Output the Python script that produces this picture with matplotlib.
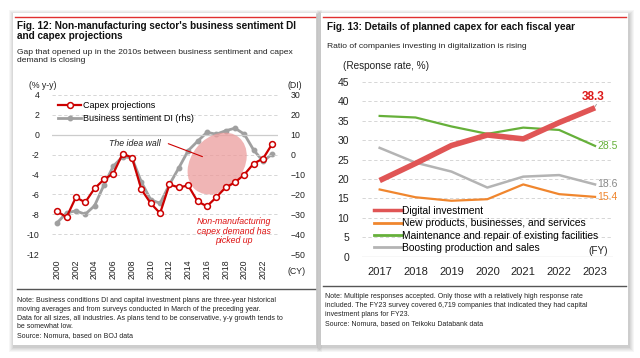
import matplotlib
matplotlib.use("Agg")
import matplotlib.pyplot as plt
import matplotlib.transforms as mtransforms
from matplotlib.patches import Ellipse, Rectangle
from matplotlib.lines import Line2D

plt.rcParams['font.family'] = ['Liberation Sans', 'DejaVu Sans']

# ---------------- data: Fig. 12 ----------------
years12 = list(range(2000, 2024))
capex = [-7.7, -8.3, -6.3, -6.8, -5.4, -4.5, -3.9, -1.9, -2.3, -5.5, -6.9, -7.9,
         -5.0, -5.3, -5.1, -6.7, -7.2, -6.3, -5.3, -4.8, -4.0, -2.9, -2.4, -0.9]
sentiment_di = [-34.3, -29.3, -28.3, -30.0, -25.7, -15.3, -5.8, -1.0, -1.7, -13.8, -22.7, -24.5,
                -15.0, -6.7, 2.0, 6.7, 11.2, 10.3, 12.0, 13.3, 10.3, 2.3, -3.3, 0.3]
xticks12 = list(range(2000, 2023, 2))

# ---------------- data: Fig. 13 ----------------
years13 = [2017, 2018, 2019, 2020, 2021, 2022, 2023]
digital = [19.6, 24.0, 28.6, 31.3, 30.3, 34.5, 38.3]
new_products = [17.3, 15.3, 14.4, 14.8, 18.6, 16.1, 15.4]
maintenance = [36.2, 35.8, 33.5, 31.6, 33.2, 32.6, 28.5]
boosting = [28.0, 24.2, 21.9, 17.8, 20.6, 21.0, 18.6]
series13_names = ["Digital investment", "New products, businesses, and services",
                  "Maintenance and repair of existing facilities", "Boosting production and sales"]

W, H = 640, 358
fig = plt.figure(figsize=(W / 100, H / 100), dpi=100)
fig.patch.set_facecolor('white')


def fx(x):
    return x / W


def fy(y):
    return 1 - y / H


def axrect(x0, y0, x1, y1):
    return [fx(x0), fy(y1), fx(x1) - fx(x0), fy(y0) - fy(y1)]


# cards with soft shadows
bg = fig.add_axes([0, 0, 1, 1], zorder=-10)
bg.set_xlim(0, W)
bg.set_ylim(H, 0)
bg.axis('off')
for (x0, y0, x1, y1) in [(13, 13, 316, 345), (321, 13, 628, 345)]:
    for i, a in enumerate([0.035, 0.035, 0.04, 0.045, 0.05]):
        d = 5 - i
        bg.add_patch(Rectangle((x0 - d + 1, y0 - d + 2), (x1 - x0) + 2 * d, (y1 - y0) + 2 * d,
                               facecolor='black', alpha=a, edgecolor='none'))
    bg.add_patch(Rectangle((x0, y0), x1 - x0, y1 - y0, facecolor='white', edgecolor='none'))
# red top lines
bg.plot([15, 315], [17, 17], color='#e03030', lw=1.0)
bg.plot([323, 626], [17, 17], color='#e03030', lw=1.0)
# note separators
bg.plot([17, 315], [289, 289], color='#555555', lw=1.0)
bg.plot([323, 626], [286, 286], color='#555555', lw=1.0)

# ---------------- titles ----------------
fig.text(fx(17), fy(31), "Fig. 12: Non-manufacturing sector's business sentiment DI\nand capex projections",
         fontsize=7.2, fontweight='bold', va='center', ha='left', linespacing=1.1, color='#111111')
fig.text(fx(17), fy(56.5), "Gap that opened up in the 2010s between business sentiment and capex\ndemand is closing",
         fontsize=6.1, va='center', ha='left', linespacing=1.25, color='#222222')
fig.text(fx(327), fy(27), "Fig. 13: Details of planned capex for each fiscal year",
         fontsize=7.2, fontweight='bold', va='center', ha='left', color='#111111')
fig.text(fx(327), fy(46), "Ratio of companies investing in digitalization is rising",
         fontsize=6.1, va='center', ha='left', color='#222222')

# notes
fig.text(fx(17), fy(297), "Note: Business conditions DI and capital investment plans are three-year historical\n"
         "moving averages and from surveys conducted in March of the preceding year.\n"
         "Data for all sizes, all industries. As plans tend to be conservative, y-y growth tends to\n"
         "be somewhat low.",
         fontsize=5.0, va='top', ha='left', linespacing=1.35, color='#222222')
fig.text(fx(17), fy(336), "Source: Nomura, based on BOJ data", fontsize=5.0, va='center', ha='left', color='#222222')
fig.text(fx(325), fy(293), "Note: Multiple responses accepted. Only those with a relatively high response rate\n"
         "included. The FY23 survey covered 6,719 companies that indicated they had capital\n"
         "investment plans for FY23.",
         fontsize=5.0, va='top', ha='left', linespacing=1.35, color='#222222')
fig.text(fx(325), fy(324), "Source: Nomura, based on Teikoku Databank data", fontsize=5.0, va='center',
         ha='left', color='#222222')

# ---------------- Fig. 12 chart ----------------
ax = fig.add_axes(axrect(52, 95, 278, 254))
ax.set_xlim(1999.45, 2023.6)
ax.set_ylim(-12, 4)
ax2 = ax.twinx()
ax2.set_ylim(-50, 30)
ax.set_zorder(2)
ax.patch.set_visible(False)

for v in range(-12, 5, 2):
    if v == 0:
        ax.axhline(v, color='#cccccc', lw=0.9, zorder=0)
    else:
        ax.axhline(v, color='#d0d0d0', lw=0.6, ls=(0, (4, 3)), zorder=0)

ax2.plot(years12, sentiment_di, color='#a0a0a0', lw=2.0, marker='o', ms=3.2,
         markerfacecolor='#a0a0a0', markeredgecolor='#a0a0a0', zorder=3)
ax.plot(years12, capex, color='#cc0000', lw=1.6, marker='o', ms=4.2,
        markerfacecolor='white', markeredgecolor='#cc0000', mew=1.1, zorder=4)

# ellipse in pixel units around a data point
cx, cy = 2017.1, -2.9
tr = fig.dpi_scale_trans + mtransforms.ScaledTranslation(cx, cy, ax.transData)
ell = Ellipse((0, 0), 0.68, 0.52, angle=50, transform=tr, facecolor='#ec9c9c', alpha=0.75,
              edgecolor='none', zorder=1)
ax.add_patch(ell)
ax.annotate("", xy=(2015.8, -2.3), xytext=(2011.6, -0.8),
            arrowprops=dict(arrowstyle='-', color='#cc0000', lw=0.8), zorder=5)
ax.text(2011.1, -0.85, "The idea wall", fontsize=6.3, style='italic', ha='right', va='center',
        color='#222222')
ax.text(2018.9, -9.7, "Non-manufacturing\ncapex demand has\npicked up", fontsize=6.3, style='italic',
        ha='center', va='center', color='#dd1111', linespacing=1.05)

ax.set_yticks(range(-12, 5, 2))
ax.set_yticklabels([str(v) for v in range(-12, 5, 2)])
ax2.set_yticks(range(-50, 31, 10))
ax.set_xticks(xticks12)
ax.set_xticklabels([str(v) for v in xticks12], rotation=90)
for a in (ax, ax2):
    for s in a.spines.values():
        s.set_visible(False)
    a.tick_params(length=0, labelsize=6.3, colors='#222222')
ax.tick_params(axis='y', pad=9)
ax2.tick_params(axis='y', pad=9)
ax.tick_params(axis='x', pad=4)

fig.text(fx(29), fy(85), "(% y-y)", fontsize=6.3, ha='left', va='center', color='#222222')
fig.text(fx(287), fy(85), "(DI)", fontsize=6.3, ha='left', va='center', color='#222222')
fig.text(fx(287), fy(272), "(CY)", fontsize=6.3, ha='left', va='center', color='#222222')

h1 = Line2D([], [], color='#cc0000', lw=1.6, marker='o', ms=4.2, markerfacecolor='white',
            markeredgecolor='#cc0000', mew=1.1)
h2 = Line2D([], [], color='#a0a0a0', lw=2.0, marker='o', ms=3.2, markerfacecolor='#a0a0a0',
            markeredgecolor='#a0a0a0')
ax.legend([h1, h2], ["Capex projections", "Business sentiment DI (rhs)"], loc='upper left',
          bbox_to_anchor=(fx(58), fy(101)), bbox_transform=fig.transFigure, frameon=False,
          fontsize=6.5, handlelength=2.6, handletextpad=0.2, labelspacing=0.45, borderpad=0,
          borderaxespad=0)

# ---------------- Fig. 13 chart ----------------
bx = fig.add_axes(axrect(361.7, 81.7, 613, 256.8))
bx.set_xlim(2016.5, 2023.5)
bx.set_ylim(0, 45)
for v in range(5, 46, 5):
    bx.axhline(v, color='#d0d0d0', lw=0.6, ls=(0, (4, 3)), zorder=0)
bx.axhline(0, color='#d8d8d8', lw=1.0, zorder=0)

c_dig, c_new, c_mnt, c_bst = '#e05555', '#f0862e', '#66b03a', '#b4b4b4'
bx.plot(years13, new_products, color=c_new, lw=1.6, zorder=2)
bx.plot(years13, boosting, color=c_bst, lw=1.8, zorder=2)
bx.plot(years13, maintenance, color=c_mnt, lw=1.6, zorder=3)
bx.plot(years13, digital, color=c_dig, lw=4.0, zorder=4, solid_capstyle='butt')

bx.annotate("", xy=(2023.0, digital[-1] + 0.3), xytext=(2023.08, digital[-1] + 1.5),
            arrowprops=dict(arrowstyle='-', color='#999999', lw=0.6))
bx.text(2022.95, 41.0, f"{digital[-1]:.1f}", fontsize=8.5, fontweight='bold', color='#dd1a1a',
        ha='center', va='center')
bx.text(2023.06, maintenance[-1], f"{maintenance[-1]:.1f}", fontsize=7.5, color=c_mnt,
        ha='left', va='center')
bx.text(2023.06, boosting[-1], f"{boosting[-1]:.1f}", fontsize=7.5, color='#888888',
        ha='left', va='center')
bx.text(2023.06, new_products[-1], f"{new_products[-1]:.1f}", fontsize=7.5, color=c_new,
        ha='left', va='center')

bx.set_xticks(years13)
bx.set_xticklabels([str(y) for y in years13])
bx.set_yticks(range(0, 46, 5))
for s in bx.spines.values():
    s.set_visible(False)
bx.tick_params(length=0, colors='#222222')
bx.tick_params(axis='x', labelsize=8, pad=7)
bx.tick_params(axis='y', labelsize=7.5, pad=9)

fig.text(fx(343), fy(66), "(Response rate, %)", fontsize=7.2, ha='left', va='center', color='#222222')
fig.text(fx(598), fy(251), "(FY)", fontsize=7.2, ha='center', va='center', color='#222222')

hs = [Line2D([], [], color=c, lw=lw) for c, lw in
      [(c_dig, 2.5), (c_new, 2.0), (c_mnt, 2.0), (c_bst, 2.0)]]
bx.legend(hs, series13_names, loc='upper left', bbox_to_anchor=(fx(374), fy(206)),
          bbox_transform=fig.transFigure, frameon=False, fontsize=7.4, handlelength=2.7,
          handletextpad=0.05, labelspacing=0.22, borderpad=0, borderaxespad=0)

fig.savefig("out.png", dpi=100, facecolor='white')
